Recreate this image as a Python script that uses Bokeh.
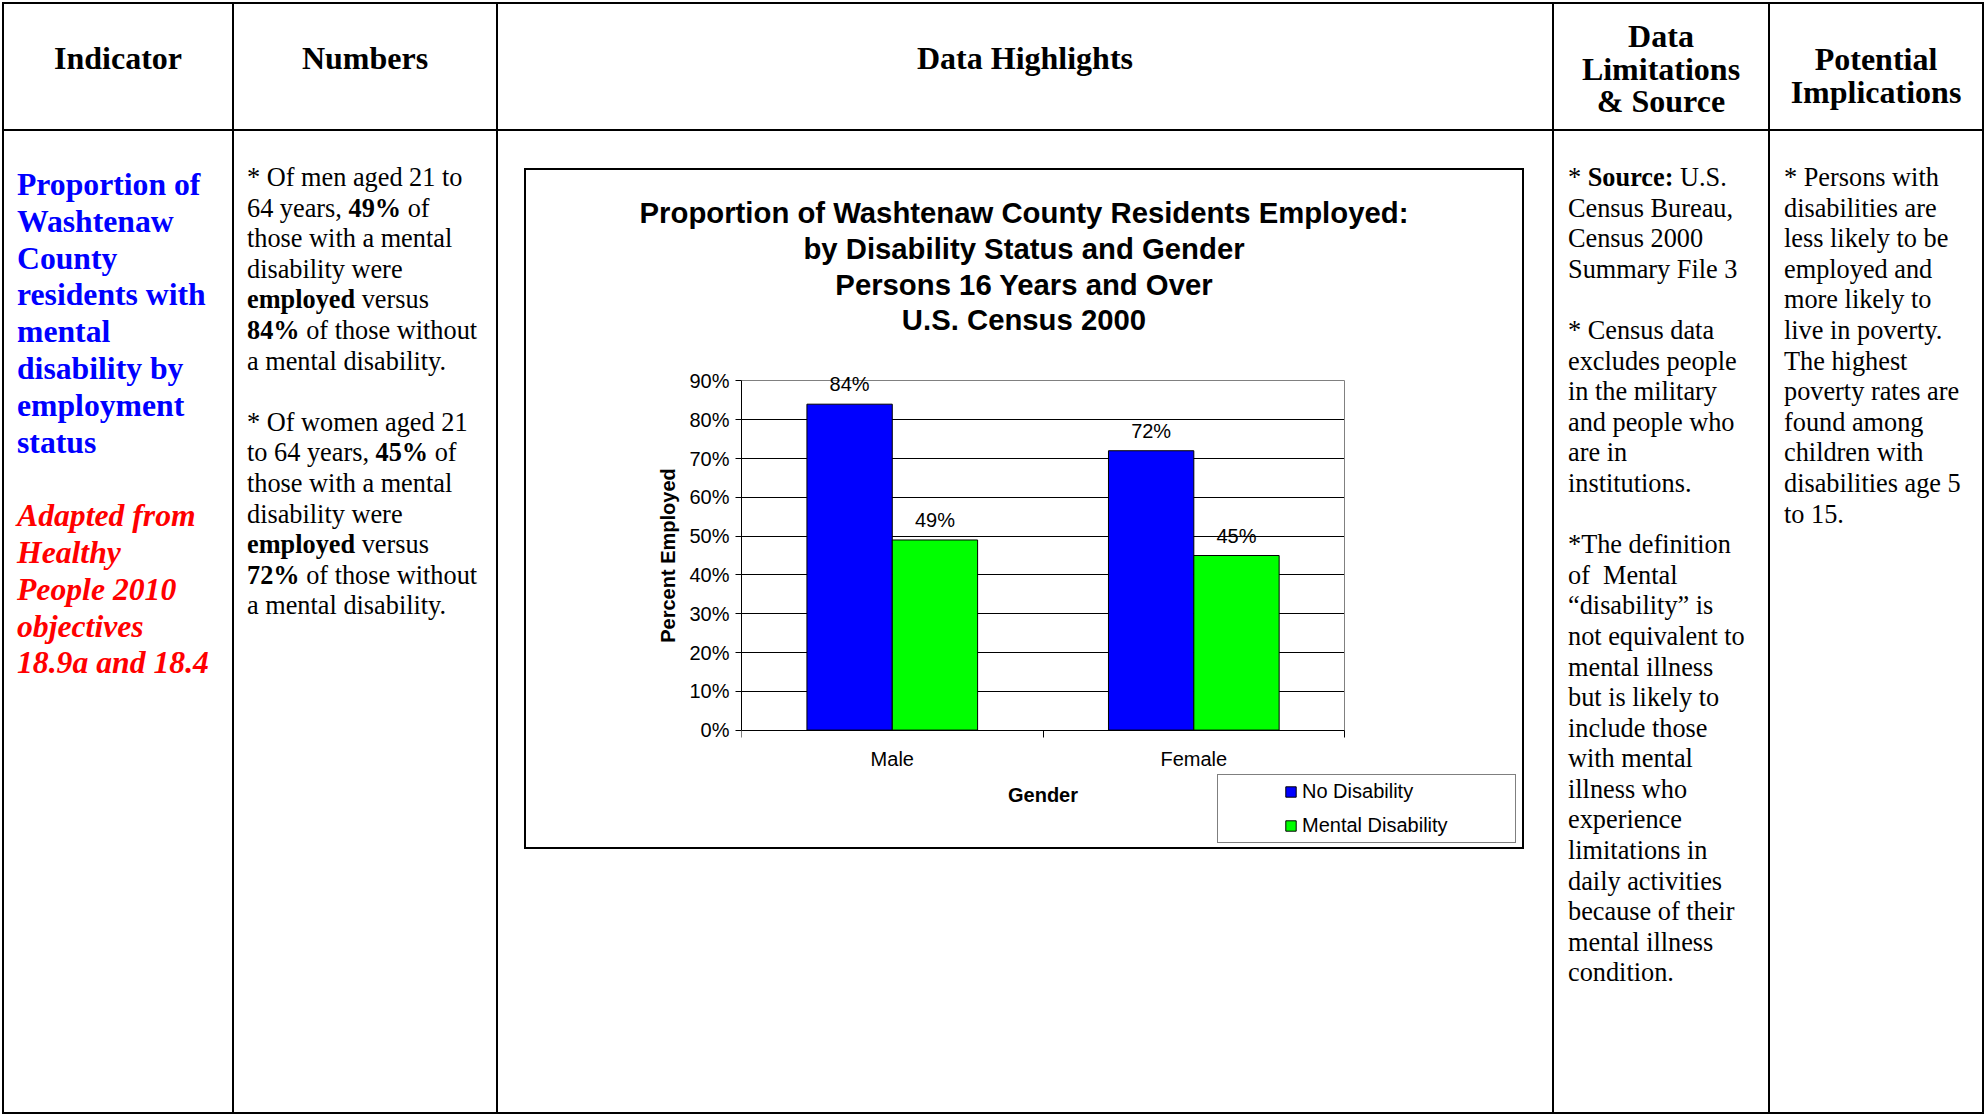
from bokeh.plotting import figure
from bokeh.models import (ColumnDataSource, FixedTicker, Range1d, LabelSet, Grid,
                          Legend, LegendItem, Div)
from bokeh.layouts import row, column
from bokeh.transform import dodge
from bokeh.core.properties import value
from bokeh.embed import file_html
from bokeh.resources import INLINE

# ---------------- data ----------------
categories = ["Male", "Female"]
no_disability = [84, 72]
mental_disability = [49, 45]
series_names = ["No Disability", "Mental Disability"]
y_ticks = [0, 10, 20, 30, 40, 50, 60, 70, 80, 90]

chart_title = ["Proportion of Washtenaw County Residents Employed:",
               "by Disability Status and Gender",
               "Persons 16 Years and Over",
               "U.S. Census 2000"]

headers = [["Indicator"], ["Numbers"], ["Data Highlights"],
           ["Data", "Limitations", "&amp; Source"], ["Potential", "Implications"]]

indicator_lines = ["Proportion of", "Washtenaw", "County", "residents with", "mental",
                   "disability by", "employment", "status"]
adapted_lines = ["Adapted from", "Healthy", "People 2010", "objectives", "18.9a and 18.4"]

numbers_lines = ["* Of men aged 21 to",
                 f"64 years, <b>{mental_disability[0]}%</b> of",
                 "those with a mental", "disability were", "<b>employed</b> versus",
                 f"<b>{no_disability[0]}%</b> of those without", "a mental disability.",
                 "",
                 "* Of women aged 21",
                 f"to 64 years, <b>{mental_disability[1]}%</b> of",
                 "those with a mental", "disability were", "<b>employed</b> versus",
                 f"<b>{no_disability[1]}%</b> of those without", "a mental disability."]

limitation_lines = ["* <b>Source:</b> U.S.", "Census Bureau,", "Census 2000", "Summary File 3", "",
                    "* Census data", "excludes people", "in the military", "and people who",
                    "are in", "institutions.", "",
                    "*The definition", "of&nbsp; Mental", "\u201cdisability\u201d is",
                    "not equivalent to", "mental illness", "but is likely to", "include those",
                    "with mental", "illness who", "experience", "limitations in",
                    "daily activities", "because of their", "mental illness", "condition."]

implication_lines = ["* Persons with", "disabilities are", "less likely to be", "employed and",
                     "more likely to", "live in poverty.", "The highest", "poverty rates are",
                     "found among", "children with", "disabilities age 5", "to 15."]

# ---------------- table layout ----------------
SERIF = "'Liberation Serif', 'Times New Roman', serif"
SANS = "Liberation Sans"
col_w = [230, 264, 1056, 216, 216]
head_h = 129
body_h = 983
B = "2px solid #000"


def cell(inner, w, h, borders, pad_top, pad_left=0, align="left", size=26.3, lh=30.6,
         color="#000", weight="normal", style="normal", family=SERIF):
    bstyle = ";".join(f"border-{b}:{B}" for b in borders)
    html = (f'<div style="box-sizing:border-box;width:{w}px;height:{h}px;{bstyle};'
            f'padding:{pad_top}px 0 0 {pad_left}px;text-align:{align};'
            f'font-family:{family};font-size:{size}px;line-height:{lh}px;color:{color};'
            f'font-weight:{weight};font-style:{style};white-space:nowrap;overflow:hidden;">'
            f'{inner}</div>')
    return Div(text=html, width=w, height=h, margin=0)


head_pads = [38, 38, 38, 16, 39]
head_cells = []
for i, lines in enumerate(headers):
    borders = ["top", "left", "bottom"] + (["right"] if i == len(headers) - 1 else [])
    head_cells.append(cell("<br>".join(lines), col_w[i], head_h, borders, head_pads[i],
                           align="center", size=32, lh=32.5, weight="bold"))

ind_html = ('<span style="color:#0000FF">' + "<br>".join(indicator_lines) + '</span><br><br>'
            '<span style="color:#FF0000;font-style:italic">' + "<br>".join(adapted_lines) + '</span>')
c1 = cell(ind_html, col_w[0], body_h, ["left", "bottom"], 36, 13, size=31.7, lh=36.8, weight="bold")
c2 = cell("<br>".join(numbers_lines), col_w[1], body_h, ["left", "bottom"], 32, 13)
c4 = cell("<br>".join(limitation_lines), col_w[3], body_h, ["left", "bottom"], 32, 14)
c5 = cell("<br>".join(implication_lines), col_w[4], body_h, ["left", "bottom", "right"], 32, 14)

# ---------------- chart ----------------
n = len(categories)
bw = 0.283
src = ColumnDataSource(dict(
    xc=[i + 0.5 for i in range(n)],
    nd=no_disability, md=mental_disability,
    nd_lbl=[f"{v}%" for v in no_disability],
    md_lbl=[f"{v}%" for v in mental_disability],
))

TITLE_H = 192
title_div = cell("<br>".join(chart_title), 996, TITLE_H, [], 25, 0, align="center", size=29.3,
                 lh=35.8, weight="bold", family="'Liberation Sans', Arial, sans-serif")

# The drawable frame is extended around the 0-90 % plot area (symmetric about 45 %)
# so that the legend, which sits beside the x-axis title, lies inside it and the
# y-axis title stays centred on the 0-90 % axis.  The transparent canvas is pulled
# up over the lower part of the title block.
Y_START, Y_END = -30, 120
FRAME_H = 582
OVERLAP = 98
p = figure(width=996, height=FRAME_H + 90, x_range=Range1d(0, 2.59),
           y_range=Range1d(Y_START, Y_END),
           output_backend="svg", toolbar_location=None,
           min_border_left=215, min_border_right=0, min_border_top=0, min_border_bottom=90,
           margin=(-OVERLAP, 0, 0, 0), background_fill_alpha=0, border_fill_alpha=0,
           outline_line_color=None)

r1 = p.vbar(x=dodge("xc", -bw / 2), top="nd", bottom=0, width=bw, source=src,
            fill_color="#0000FF", line_color="black", line_width=1)
r2 = p.vbar(x=dodge("xc", bw / 2), top="md", bottom=0, width=bw, source=src,
            fill_color="#00FF00", line_color="black", line_width=1)

for fld, yfld, off in (("nd_lbl", "nd", -bw / 2), ("md_lbl", "md", bw / 2)):
    p.add_layout(LabelSet(x=dodge("xc", off), y=yfld, text=fld, source=src,
                          text_align="center", text_baseline="alphabetic", y_offset=13,
                          text_font=value(SANS), text_font_size=value("20px"),
                          text_color="black"))

# axes
p.yaxis.ticker = FixedTicker(ticks=y_ticks)
p.yaxis.bounds = (y_ticks[0], y_ticks[-1])
p.yaxis.major_label_overrides = {t: f"{t}%" for t in y_ticks}
p.yaxis.axis_label = "Percent Employed"
p.yaxis.axis_label_standoff = 7
p.yaxis.major_tick_out = 6
p.yaxis.major_tick_in = 0
p.yaxis.minor_tick_line_color = None
p.yaxis.major_label_standoff = 6

p.xaxis.fixed_location = 0
p.xaxis.bounds = (0, n)
p.xaxis.ticker = FixedTicker(ticks=[i + 0.5 for i in range(n)], minor_ticks=list(range(n + 1)))
p.xaxis.major_label_overrides = {i + 0.5: c for i, c in enumerate(categories)}
p.xaxis.axis_label = "Gender"
p.xaxis.axis_label_standoff = 10
p.xaxis.major_tick_line_color = None
p.xaxis.major_tick_out = 0
p.xaxis.major_tick_in = 0
p.xaxis.minor_tick_out = 7
p.xaxis.minor_tick_in = 0
p.xaxis.minor_tick_line_color = "black"
p.xaxis.major_label_standoff = 11

for ax in (p.xaxis, p.yaxis):
    ax.axis_line_color = "black"
    ax.major_label_text_font = SANS
    ax.major_label_text_font_size = "20px"
    ax.major_label_text_color = "black"
    ax.axis_label_text_font = SANS
    ax.axis_label_text_font_size = "20px"
    ax.axis_label_text_font_style = "bold"
    ax.axis_label_text_color = "black"

p.xgrid.visible = False
p.ygrid.ticker = FixedTicker(ticks=y_ticks[1:-1])
p.ygrid.cross_bounds = (0, n)
p.ygrid.grid_line_color = "black"
p.ygrid.grid_line_width = 1
# grey top and right edges of the plot area
p.add_layout(Grid(dimension=1, ticker=FixedTicker(ticks=[y_ticks[-1]]), cross_bounds=(0, n),
                  grid_line_color="#808080", grid_line_width=1))
p.add_layout(Grid(dimension=0, ticker=FixedTicker(ticks=[n]), cross_bounds=(y_ticks[0], y_ticks[-1]),
                  grid_line_color="#808080", grid_line_width=1))

legend = Legend(items=[LegendItem(label=series_names[0], renderers=[r1]),
                       LegendItem(label=series_names[1], renderers=[r2])],
                location=(476, 3), orientation="vertical", padding=5, spacing=11, margin=0,
                label_standoff=5, glyph_width=13, glyph_height=13, label_width=208, label_height=23,
                border_line_color="black", border_line_width=1, background_fill_color="white",
                label_text_font=SANS, label_text_font_size="20px", label_text_color="black",
                title=" ", title_location="left", title_text_font_size="1px", title_standoff=60)
p.add_layout(legend, "center")

chart_box = column(title_div, p, width=1000, height=681, margin=(37, 0, 0, 26), spacing=0,
                   styles={"border": B, "box-sizing": "border-box", "overflow": "hidden",
                           "background-color": "white"})

c3 = column(chart_box, width=col_w[2], height=body_h, margin=0, spacing=0,
            styles={"border-left": B, "border-bottom": B, "box-sizing": "border-box"})

header_row = row(*head_cells, spacing=0, margin=0)
body_row = row(c1, c2, c3, c4, c5, spacing=0, margin=0)
root = column(header_row, body_row, spacing=0, margin=(2, 0, 0, 2))

open("out.html", "w").write(file_html(root, INLINE))
